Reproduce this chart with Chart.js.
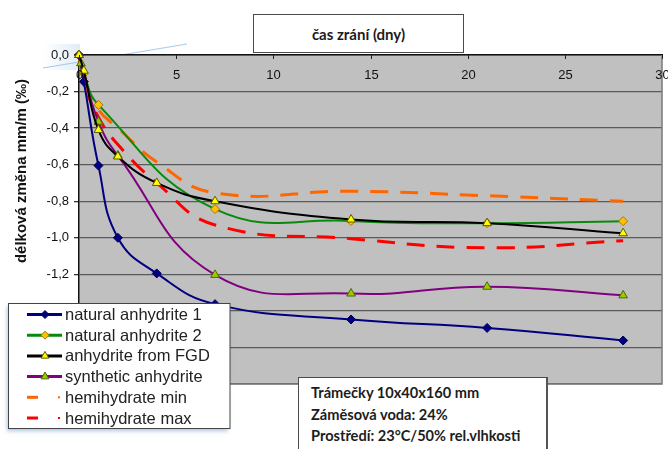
<!DOCTYPE html>
<html>
<head>
<meta charset="utf-8">
<script src="https://cdn.jsdelivr.net/npm/chart.js@4/dist/chart.umd.min.js"></script>
<style>
  html, body { margin: 0; padding: 0; background: #fff; }
  #wrap { position: relative; width: 668px; height: 449px; overflow: hidden; }
  #c { position: absolute; left: 0; top: 0; }
  .box {
    position: absolute; background: #fff; border: 1px solid #4a4a4a;
    font-family: Lato, "Open Sans", sans-serif; font-weight: 700; color: #1c1c1c;
    box-sizing: border-box; white-space: nowrap;
  }
  #axisTitle { left: 253px; top: 14px; width: 211px; height: 39px;
    display: flex; align-items: center; justify-content: center; font-size: 15px; }
  #notes { left: 298px; top: 377px; width: 250px; height: 80px;
    border-right: 2px solid #555; padding: 4px 0 0 12px; font-size: 14.6px; line-height: 21.5px; }
</style>
</head>
<body>
<div id="wrap">
  <canvas id="c" width="668" height="449"></canvas>
  <div class="box" id="axisTitle">čas zrání (dny)</div>
  <div class="box" id="notes">Trámečky 10x40x160 mm<br>Záměsová voda: 24%<br>Prostředí: 23°C/50% rel.vlhkosti</div>
</div>
<script>
// Length change (mm/m) over curing time (days)
const seriesNames = ['natural anhydrite 1', 'natural anhydrite 2', 'anhydrite from FGD',
                     'synthetic anhydrite', 'hemihydrate min', 'hemihydrate max'];

const daysNat1 = [0, 0.25, 1, 2, 4, 7, 14, 21, 28];
const natAnhydrite1 = [0, -0.146, -0.605, -1.0, -1.195, -1.363, -1.447, -1.493, -1.562];

const daysNat2 = [0, 0.25, 1, 7, 14, 21, 28];
const natAnhydrite2 = [0, -0.10, -0.273, -0.843, -0.908, -0.92, -0.909];

const daysFGD = [0, 0.25, 1, 2, 4, 7, 14, 21, 28];
const fgdAnhydrite = [0, -0.086, -0.41, -0.555, -0.70, -0.80, -0.90, -0.92, -0.975];

const daysSynth = [0, 0.1, 1, 2, 7, 14, 21, 28];
const synthAnhydrite = [0, -0.045, -0.365, -0.55, -1.203, -1.305, -1.268, -1.315];

const daysHemi = [0, 0.25, 1, 2, 4, 7, 14, 21, 28];
const hemiMin = [0, -0.15, -0.30, -0.40, -0.585, -0.755, -0.745, -0.77, -0.80];
const hemiMax = [0, -0.15, -0.34, -0.49, -0.70, -0.93, -1.005, -1.055, -1.016];

const xTickStep = 5;
const yTickStep = 0.2;

const toPoints = (xs, ys) => xs.map((x, i) => ({ x: x, y: ys[i] }));

Chart.defaults.font.family = '"Liberation Sans", Arial, sans-serif';

const styles = [
  { color: '#000080', width: 2, point: 'rectRot', fill: '#000080', edge: '#00005a', r: 4.5, order: 2 },
  { color: '#0a8a0a', width: 2, point: 'rectRot', fill: '#ffc000', edge: '#a87800', r: 4.5, order: 3 },
  { color: '#000000', width: 2, point: 'triangle', fill: '#ffff00', edge: '#5a5a00', r: 5, order: 0 },
  { color: '#800080', width: 2, point: 'triangle', fill: '#99cc00', edge: '#4d6600', r: 5, order: 1 },
  { color: '#ff6600', width: 3, dash: [18, 12], order: 4 },
  { color: '#ff0000', width: 3, dash: [18, 12], order: 5 }
];

const seriesData = [
  toPoints(daysNat1, natAnhydrite1),
  toPoints(daysNat2, natAnhydrite2),
  toPoints(daysFGD, fgdAnhydrite),
  toPoints(daysSynth, synthAnhydrite),
  toPoints(daysHemi, hemiMin),
  toPoints(daysHemi, hemiMax)
];

const datasets = seriesData.map((pts, i) => {
  const s = styles[i];
  return {
    label: seriesNames[i],
    data: pts,
    borderColor: s.color,
    borderWidth: s.width,
    borderDash: s.dash || [],
    tension: 0.45,
    fill: false,
    order: s.order,
    clip: 10,
    pointStyle: s.point || 'circle',
    pointRadius: s.point ? s.r : 0,
    pointHoverRadius: s.point ? s.r : 0,
    pointBackgroundColor: s.fill || s.color,
    pointBorderColor: s.edge || s.color,
    pointBorderWidth: 1
  };
});

function markerPath(ctx, kind, x, y, r) {
  ctx.beginPath();
  if (kind === 'rectRot') {
    ctx.moveTo(x, y - r); ctx.lineTo(x + r, y); ctx.lineTo(x, y + r); ctx.lineTo(x - r, y);
  } else {
    ctx.moveTo(x, y - r);
    ctx.lineTo(x + r * 0.866, y + r * 0.5);
    ctx.lineTo(x - r * 0.866, y + r * 0.5);
  }
  ctx.closePath();
}

const decorPlugin = {
  id: 'decor',
  beforeDraw(chart) {
    const { ctx, chartArea: a } = chart;
    ctx.save();
    // pale frame accent behind the top-left corner
    const g = ctx.createLinearGradient(43, 0, 80, 0);
    g.addColorStop(0, 'rgba(200,220,240,0.0)');
    g.addColorStop(1, 'rgba(200,220,240,0.55)');
    ctx.fillStyle = g;
    ctx.fillRect(43, 44, 37, 26);
    ctx.strokeStyle = 'rgba(150,190,228,0.8)';
    ctx.lineWidth = 1.2;
    ctx.beginPath(); ctx.moveTo(43, 68); ctx.lineTo(187, 44); ctx.stroke();
    // plot background
    ctx.fillStyle = '#c0c0c0';
    ctx.fillRect(a.left, a.top, a.right - a.left, a.bottom - a.top);
    ctx.restore();
  },
  afterDraw(chart) {
    const { ctx, chartArea: a } = chart;
    const xs = chart.scales.x;
    ctx.save();
    // plot frame (right and bottom)
    ctx.strokeStyle = '#7a7a7a';
    ctx.lineWidth = 1.5;
    ctx.beginPath();
    ctx.moveTo(a.right, a.top); ctx.lineTo(a.right, a.bottom); ctx.lineTo(a.left, a.bottom);
    ctx.stroke();

    // x ticks sit inside the plot, under the top axis line
    ctx.strokeStyle = '#222';
    ctx.lineWidth = 1;
    ctx.fillStyle = '#111';
    ctx.font = '13px "Liberation Sans", Arial, sans-serif';
    ctx.textAlign = 'center';
    ctx.textBaseline = 'middle';
    xs.ticks.forEach(t => {
      const px = Math.round(xs.getPixelForValue(t.value)) + 0.5;
      ctx.beginPath(); ctx.moveTo(px, a.top); ctx.lineTo(px, a.top + 4); ctx.stroke();
      ctx.fillText(String(t.value), px, a.top + 20);
    });

    // y axis title
    ctx.save();
    ctx.translate(22, 171);
    ctx.rotate(-Math.PI / 2);
    ctx.font = 'bold 15px "Liberation Sans", Arial, sans-serif';
    ctx.fillStyle = '#111';
    ctx.fillText('délková změna mm/m (‰)', 0, 0);
    ctx.restore();

    // legend box
    const bx = 8.5, by = 303.5, bw = 221.5, bh = 125;
    ctx.save();
    ctx.shadowColor = 'rgba(110,150,200,0.55)';
    ctx.shadowBlur = 4;
    ctx.shadowOffsetX = -2;
    ctx.shadowOffsetY = 2;
    ctx.fillStyle = '#fff';
    ctx.fillRect(bx, by, bw, bh);
    ctx.restore();
    ctx.strokeStyle = '#444';
    ctx.lineWidth = 1;
    ctx.strokeRect(bx, by, bw, bh);

    ctx.font = '16.5px "Liberation Sans", Arial, sans-serif';
    ctx.textAlign = 'left';
    ctx.textBaseline = 'middle';
    chart.data.datasets.forEach((ds, i) => {
      const s = styles[i];
      const y = 314.5 + i * 20.7;
      ctx.strokeStyle = s.color;
      ctx.lineWidth = 3;
      ctx.beginPath();
      if (s.dash) {
        ctx.moveTo(27, y); ctx.lineTo(38, y); ctx.stroke();
        ctx.fillStyle = s.color;
        ctx.fillRect(58, y - 1, 2, 2);
      } else {
        ctx.moveTo(27, y); ctx.lineTo(62, y); ctx.stroke();
        markerPath(ctx, s.point, 45, y, s.point === 'triangle' ? 4.5 : 4);
        ctx.fillStyle = s.fill; ctx.fill();
        ctx.lineWidth = 1; ctx.strokeStyle = s.edge; ctx.stroke();
      }
      ctx.fillStyle = '#222';
      ctx.fillText(ds.label, 65, y + 1);
    });
    ctx.restore();
  }
};

new Chart(document.getElementById('c'), {
  type: 'line',
  data: { datasets: datasets },
  plugins: [decorPlugin],
  options: {
    responsive: false,
    animation: false,
    events: [],
    layout: { padding: { top: 55, right: 6, bottom: 65, left: 0 } },
    plugins: { legend: { display: false }, tooltip: { enabled: false } },
    scales: {
      x: {
        type: 'linear',
        position: 'top',
        min: 0, max: 30,
        ticks: { stepSize: xTickStep, display: false },
        grid: { display: false, drawTicks: false },
        border: { display: true, color: '#111', width: 1.5 },
        afterFit(scale) { scale.height = 0; }
      },
      y: {
        type: 'linear',
        min: -1.8, max: 0,
        ticks: {
          stepSize: yTickStep,
          padding: 5,
          color: '#111',
          font: { size: 13 },
          callback: v => (Math.abs(v) < 1e-9 ? 0 : v).toFixed(1).replace('.', ',')
        },
        grid: { color: '#5a5a5a', lineWidth: 1.3, tickLength: 5, tickColor: '#333' },
        border: { display: true, color: '#111', width: 1.5 },
        afterFit(scale) { scale.width = 79; }
      }
    }
  }
});
</script>
</body>
</html>
